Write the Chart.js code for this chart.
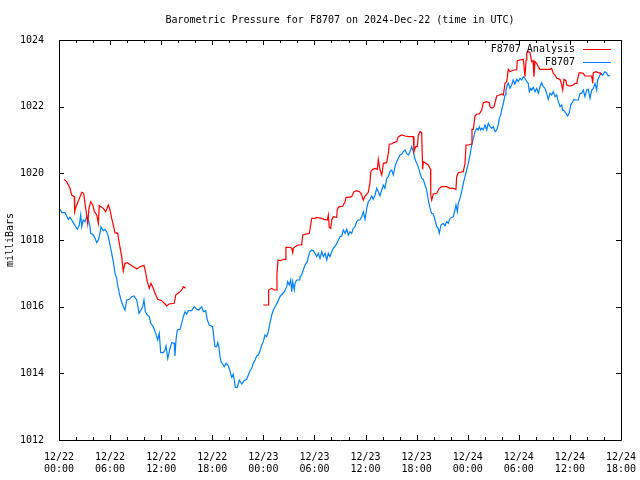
<!DOCTYPE html>
<html>
<head>
<meta charset="utf-8">
<script src="https://cdn.jsdelivr.net/npm/chart.js@4"></script>
<style>
  html, body { margin: 0; padding: 0; background: #fff; }
  #chart { display: block; }
</style>
</head>
<body>
<canvas id="chart" width="640" height="480"></canvas>
<script>
const titleText = 'Barometric Pressure for F8707 on 2024-Dec-22 (time in UTC)';
const yTitle = 'milliBars';
const seriesNames = ['F8707 Analysis', 'F8707'];

// x axis is hours since 12/22 00:00 UTC
const xTickLabels = [
    ['12/22', '00:00'], ['12/22', '06:00'], ['12/22', '12:00'], ['12/22', '18:00'],
    ['12/23', '00:00'], ['12/23', '06:00'], ['12/23', '12:00'], ['12/23', '18:00'],
    ['12/24', '00:00'], ['12/24', '06:00'], ['12/24', '12:00'], ['12/24', '18:00']
];
const yTicks = [1012, 1014, 1016, 1018, 1020, 1022, 1024];

// analysis series (null = no data)
const analysisHours = [
    0.59, 0.90, 1.29, 1.49, 1.80, 1.84, 2.00, 2.47, 2.67, 2.90, 3.05, 3.25, 3.37, 3.52, 3.72, 3.96,
    4.15, 4.43, 4.62, 4.73, 5.20, 5.48, 5.79, 5.99, 6.19, 6.58, 6.89, 7.08, 7.36, 7.55, 7.75, 8.02,
    8.73, 9.13, 9.51, 9.98, 10.14, 10.37, 10.60, 10.80, 11.07, 11.27, 11.59, 12.06, 12.45, 12.65, 12.92,
    13.54, 13.71, 14.13, 14.41, 14.60, 14.88,
    19.0,
    23.99, 24.58, 24.62, 24.98, 25.25, 25.57, 25.60, 25.72, 26.04, 26.34, 26.62, 26.65, 27.13, 27.33,
    27.45, 27.52, 27.72, 28.10, 28.50, 28.62, 28.89, 29.40, 29.56, 29.68, 30.06, 30.26, 30.85, 31.12,
    31.51, 31.63, 31.74, 31.91, 32.03, 32.21, 32.61, 32.68, 32.80, 33.00, 33.32, 33.59, 33.71, 33.98,
    34.37, 34.64, 34.96, 35.27, 35.47, 35.74, 35.94, 36.32, 36.52, 36.61, 36.84, 37.11, 37.38, 37.50,
    37.70, 37.90, 37.99, 38.09, 38.49, 38.67, 38.79, 39.07, 39.26, 39.66, 39.85, 40.25, 40.63, 41.02,
    41.61, 41.69, 41.89, 42.08, 42.20, 42.40, 42.59, 42.71, 42.78, 42.98, 43.37, 43.63, 43.66, 43.77,
    43.96, 44.36, 44.66, 44.94, 45.53, 45.92, 46.31, 46.62, 46.70, 46.89, 47.48, 47.68, 47.80, 48.07,
    48.47, 48.50, 48.66, 48.85, 49.05, 49.36, 49.64, 49.83, 50.23, 50.53, 50.62, 50.82, 51.09, 51.40,
    51.71, 51.99, 52.18, 52.38, 52.58, 52.76, 52.96, 53.35, 53.75, 53.82, 54.14, 54.53, 54.73, 54.85,
    54.93, 55.11, 55.31, 55.51, 55.67, 55.78, 55.90, 56.10, 56.29, 56.49, 57.66, 57.86, 58.05, 58.25,
    58.45, 58.84, 59.04, 59.15, 59.31, 59.54, 59.62, 60.01, 60.40, 60.60, 60.83, 60.87, 61.10, 61.57,
    61.77, 62.56, 62.68, 62.75, 63.06, 63.33, 63.62, 63.73
];
const analysisMbar = [
    1019.82, 1019.75, 1019.55, 1019.35, 1019.30, 1018.85, 1019.00, 1019.30, 1019.43, 1019.40, 1019.10,
    1018.75, 1018.50, 1018.95, 1019.15, 1019.05, 1018.85, 1018.75, 1018.50, 1019.03, 1018.95, 1018.85,
    1019.05, 1018.90, 1018.65, 1018.22, 1018.20, 1017.90, 1017.50, 1017.07, 1017.30, 1017.32, 1017.20,
    1017.13, 1017.20, 1017.24, 1017.07, 1016.75, 1016.55, 1016.70, 1016.55, 1016.40, 1016.22, 1016.18,
    1016.08, 1016.02, 1016.08, 1016.10, 1016.35, 1016.43, 1016.50, 1016.60, 1016.55,
    null,
    1016.05, 1016.05, 1016.50, 1016.55, 1016.50, 1016.50, 1016.98, 1017.40, 1017.38, 1017.42, 1017.42,
    1017.78, 1017.78, 1017.75, 1017.62, 1017.75, 1017.80, 1017.85, 1017.85, 1018.15, 1018.17, 1018.20,
    1018.45, 1018.65, 1018.65, 1018.68, 1018.65, 1018.62, 1018.60, 1018.75, 1018.38, 1018.35, 1018.60,
    1018.70, 1018.68, 1018.90, 1018.98, 1019.00, 1019.02, 1019.15, 1019.28, 1019.28, 1019.30, 1019.45,
    1019.48, 1019.45, 1019.40, 1019.20, 1019.32, 1019.43, 1019.72, 1020.05, 1020.12, 1020.15, 1020.12,
    1020.42, 1020.10, 1019.95, 1020.10, 1020.30, 1020.32, 1020.60, 1020.88, 1020.88, 1020.92, 1020.95,
    1021.10, 1021.15, 1021.12, 1021.10, 1021.10, 1020.65, 1020.80, 1020.80, 1021.15, 1021.25, 1021.22,
    1020.12, 1020.35, 1020.32, 1020.25, 1020.12, 1019.35, 1019.20, 1019.38, 1019.40, 1019.55, 1019.60,
    1019.60, 1019.55, 1019.55, 1019.52, 1019.90, 1020.02, 1020.05, 1020.30, 1020.85, 1020.85, 1020.88,
    1021.32, 1021.32, 1021.72, 1021.78, 1021.78, 1021.90, 1022.12, 1022.15, 1022.12, 1022.00, 1021.95,
    1022.00, 1022.32, 1022.35, 1022.38, 1022.35, 1022.70, 1022.75, 1023.12, 1023.05, 1023.10, 1023.10,
    1023.38, 1023.40, 1023.42, 1022.90, 1023.40, 1023.62, 1023.65, 1023.62, 1023.35, 1023.38, 1022.90,
    1023.35, 1023.30, 1023.20, 1023.12, 1023.12, 1023.15, 1023.00, 1022.95, 1022.85, 1022.82, 1022.65,
    1022.50, 1022.82, 1022.78, 1022.65, 1022.62, 1022.65, 1022.70, 1022.70, 1022.80, 1023.02, 1023.00,
    1022.92, 1022.92, 1022.70, 1023.02, 1023.05, 1023.02, 1023.00, 1022.95
];

// station observations
const stationHours = [
    0.12, 0.35, 0.70, 0.90, 1.09, 1.29, 1.49, 1.68, 1.91, 2.15, 2.38, 2.55, 2.67, 2.85, 3.05, 3.25,
    3.44, 3.64, 3.72, 4.03, 4.23, 4.43, 4.62, 4.81, 4.93, 5.20, 5.40, 5.60, 5.79, 5.99, 6.19, 6.38,
    6.58, 6.78, 6.89, 7.08, 7.28, 7.55, 7.75, 7.95, 8.26, 8.54, 8.81, 9.13, 9.40, 9.63, 9.83, 9.98,
    10.14, 10.37, 10.60, 10.77, 11.07, 11.36, 11.59, 11.78, 11.94, 12.25, 12.45, 12.57, 12.77, 13.04,
    13.24, 13.54, 13.62, 13.74, 13.89, 14.21, 14.41, 14.60, 14.80, 15.00, 15.18, 15.58, 15.89, 16.17,
    16.44, 16.76, 16.95, 17.23, 17.42, 17.65, 18.05, 18.20, 18.32, 18.52, 18.64, 18.79, 18.91, 19.03,
    19.22, 19.41, 19.61, 19.88, 20.16, 20.28, 20.47, 20.59, 20.70, 20.94, 21.17, 21.46, 21.73, 22.04,
    22.23, 22.43, 22.63, 22.82, 23.02, 23.22, 23.41, 23.61, 23.81, 23.99, 24.19, 24.39, 24.58, 24.78,
    24.98, 25.17, 25.37, 25.64, 25.95, 26.22, 26.46, 26.74, 26.86, 27.05, 27.21, 27.33, 27.45, 27.63,
    27.72, 27.91, 28.22, 28.30, 28.50, 28.69, 28.89, 29.16, 29.28, 29.48, 29.68, 29.87, 30.06, 30.26,
    30.45, 30.65, 30.85, 31.04, 31.24, 31.44, 31.63, 31.83, 32.03, 32.21, 32.53, 32.68, 33.00, 33.20,
    33.39, 33.59, 33.79, 33.98, 34.17, 34.37, 34.56, 34.76, 34.96, 35.15, 35.35, 35.55, 35.74, 35.94,
    36.14, 36.32, 36.52, 36.72, 36.91, 37.11, 37.31, 37.50, 37.70, 37.90, 38.09, 38.28, 38.49, 38.67,
    38.87, 39.07, 39.26, 39.46, 39.66, 39.85, 40.05, 40.25, 40.43, 40.63, 40.83, 41.02, 41.22, 41.42,
    41.61, 41.81, 42.01, 42.20, 42.40, 42.59, 42.78, 42.98, 43.18, 43.37, 43.57, 43.77, 43.96, 44.16,
    44.36, 44.54, 44.66, 44.86, 45.13, 45.33, 45.53, 45.72, 45.92, 46.31, 46.50, 46.62, 46.78, 46.89,
    47.09, 47.29, 47.48, 47.68, 47.88, 48.07, 48.27, 48.47, 48.66, 48.85, 49.05, 49.24, 49.36, 49.52,
    49.64, 49.83, 50.03, 50.23, 50.42, 50.62, 50.82, 51.00, 51.20, 51.40, 51.59, 51.71, 51.87, 51.99,
    52.18, 52.38, 52.49, 52.65, 52.76, 52.96, 53.16, 53.35, 53.55, 53.75, 53.94, 54.14, 54.34, 54.53,
    54.73, 54.93, 55.11, 55.23, 55.40, 55.51, 55.70, 55.90, 56.10, 56.29, 56.49, 56.68, 56.88, 57.07,
    57.27, 57.46, 57.66, 57.86, 58.05, 58.25, 58.45, 58.64, 58.84, 59.04, 59.15, 59.31, 59.54, 59.74,
    59.93, 60.10, 60.33, 60.48, 60.60, 60.80, 60.99, 61.18, 61.38, 61.57, 61.77, 61.97, 62.16, 62.36,
    62.56, 62.75, 62.95, 63.14, 63.26, 63.45, 63.62, 63.85, 64.12, 64.32, 64.51, 64.71
];
const stationMbar = [
    1018.92, 1018.82, 1018.82, 1018.72, 1018.62, 1018.68, 1018.60, 1018.52, 1018.42, 1018.32, 1018.45,
    1018.75, 1018.40, 1018.60, 1018.55, 1018.70, 1018.62, 1018.40, 1018.20, 1018.15, 1018.05, 1017.92,
    1018.00, 1018.20, 1018.40, 1018.28, 1018.32, 1018.25, 1018.10, 1017.85, 1017.60, 1017.35, 1017.00,
    1016.85, 1016.65, 1016.40, 1016.20, 1016.00, 1015.90, 1016.20, 1016.22, 1016.30, 1016.32, 1016.20,
    1015.80, 1015.90, 1016.00, 1016.20, 1015.85, 1015.75, 1015.70, 1015.50, 1015.40, 1015.20, 1015.00,
    1015.20, 1014.62, 1014.62, 1014.70, 1014.82, 1014.45, 1014.75, 1014.92, 1014.90, 1014.52, 1015.00,
    1015.30, 1015.32, 1015.50, 1015.70, 1015.85, 1015.78, 1015.88, 1015.88, 1016.00, 1015.92, 1015.90,
    1016.00, 1015.85, 1015.88, 1015.60, 1015.45, 1015.40, 1015.05, 1014.80, 1014.80, 1014.92, 1014.78,
    1014.50, 1014.35, 1014.28, 1014.20, 1014.30, 1014.23, 1014.00, 1013.88, 1013.97, 1013.80, 1013.58,
    1013.58, 1013.80, 1013.68, 1013.78, 1013.82, 1013.95, 1014.08, 1014.15, 1014.30, 1014.40, 1014.52,
    1014.55, 1014.68, 1014.85, 1014.95, 1015.15, 1015.10, 1015.25, 1015.52, 1015.75, 1015.90, 1016.00,
    1016.12, 1016.30, 1016.38, 1016.45, 1016.60, 1016.75, 1016.65, 1016.80, 1016.45, 1016.75, 1016.50,
    1016.70, 1016.80, 1016.80, 1016.90, 1016.95, 1017.10, 1017.25, 1017.35, 1017.50, 1017.65, 1017.70,
    1017.68, 1017.60, 1017.50, 1017.60, 1017.45, 1017.65, 1017.50, 1017.60, 1017.40, 1017.60, 1017.50,
    1017.65, 1017.75, 1017.85, 1017.93, 1018.10, 1018.12, 1018.30, 1018.20, 1018.32, 1018.15, 1018.25,
    1018.20, 1018.35, 1018.40, 1018.55, 1018.60, 1018.60, 1018.70, 1018.85, 1018.62, 1018.95, 1019.15,
    1019.20, 1019.32, 1019.22, 1019.35, 1019.55, 1019.45, 1019.32, 1019.50, 1019.65, 1019.55, 1019.85,
    1019.90, 1020.05, 1020.10, 1019.95, 1020.20, 1020.35, 1020.45, 1020.55, 1020.58, 1020.65, 1020.70,
    1020.60, 1020.55, 1020.65, 1020.80, 1020.65, 1020.42, 1020.30, 1020.20, 1020.00, 1019.85, 1019.82,
    1019.65, 1019.50, 1019.20, 1018.95, 1018.80, 1018.78, 1018.60, 1018.40, 1018.35, 1018.20, 1018.45,
    1018.50, 1018.42, 1018.55, 1018.50, 1018.65, 1018.70, 1018.90, 1019.05, 1018.85, 1019.10, 1019.25,
    1019.45, 1019.70, 1019.90, 1020.10, 1020.30, 1020.55, 1020.85, 1021.05, 1021.25, 1021.35, 1021.30,
    1021.40, 1021.30, 1021.35, 1021.30, 1021.45, 1021.30, 1021.50, 1021.40, 1021.35, 1021.40, 1021.25,
    1021.30, 1021.45, 1021.65, 1021.75, 1021.90, 1022.10, 1022.35, 1022.50, 1022.65, 1022.70, 1022.55,
    1022.65, 1022.80, 1022.68, 1022.82, 1022.75, 1022.85, 1022.80, 1022.90, 1022.85, 1022.75, 1022.70,
    1022.45, 1022.55, 1022.50, 1022.58, 1022.45, 1022.55, 1022.40, 1022.60, 1022.72, 1022.60, 1022.55,
    1022.40, 1022.22, 1022.40, 1022.35, 1022.45, 1022.30, 1022.35, 1022.15, 1022.00, 1022.05, 1021.90,
    1021.88, 1021.80, 1021.72, 1021.82, 1022.05, 1022.15, 1022.22, 1022.20, 1022.20, 1022.20, 1022.40,
    1022.40, 1022.50, 1022.30, 1022.50, 1022.52, 1022.25, 1022.50, 1022.55, 1022.70, 1022.50, 1022.80,
    1022.90, 1023.00, 1022.95, 1023.05, 1023.00, 1022.92, 1022.95
];

const FONT = '"DejaVu Sans Mono", "Liberation Mono", monospace';
const red = '#ff0000';
const blue = '#0080ff';

function toPoints(xs, ys) {
    return xs.map((x, i) => ({ x: x, y: ys[i] }));
}

// gnuplot-like frame, inward ticks, title and key
const framePlugin = {
    id: 'frame',
    afterDatasetsDraw(chart) {
        const { ctx, chartArea: a, scales } = chart;
        const xs = scales.x, ys = scales.y;
        ctx.save();
        ctx.strokeStyle = '#000';
        ctx.lineWidth = 1;
        ctx.beginPath();
        ctx.rect(Math.round(a.left) + 0.5, Math.round(a.top) + 0.5,
            Math.round(a.right - a.left), Math.round(a.bottom - a.top));
        for (let h = 0; h <= 66; h += 2) {
            const px = Math.round(xs.getPixelForValue(h)) + 0.5;
            const len = h % 6 === 0 ? 5 : 3;
            ctx.moveTo(px, a.bottom);
            ctx.lineTo(px, a.bottom - len);
            ctx.moveTo(px, a.top);
            ctx.lineTo(px, a.top + len);
        }
        yTicks.forEach(v => {
            const py = Math.round(ys.getPixelForValue(v)) + 0.5;
            ctx.moveTo(a.left, py);
            ctx.lineTo(a.left + 5, py);
            ctx.moveTo(a.right, py);
            ctx.lineTo(a.right - 5, py);
        });
        ctx.stroke();

        ctx.fillStyle = '#000';
        ctx.font = '10px ' + FONT;
        ctx.textBaseline = 'middle';
        ctx.textAlign = 'center';
        ctx.fillText(titleText, (a.left + a.right) / 2, 20);

        // key
        ctx.textAlign = 'right';
        chart.data.datasets.forEach((ds, i) => {
            const y = 49 + i * 13;
            ctx.fillStyle = '#000';
            ctx.fillText(ds.label, 575, y);
            ctx.strokeStyle = ds.borderColor;
            ctx.beginPath();
            ctx.moveTo(583, y + 0.5);
            ctx.lineTo(611, y + 0.5);
            ctx.stroke();
        });
        ctx.restore();
    }
};

const config = {
    type: 'line',
    data: {
        datasets: [
            {
                label: seriesNames[0],
                data: toPoints(analysisHours, analysisMbar),
                borderColor: red,
                borderWidth: 1.2,
                pointRadius: 0,
                spanGaps: false,
                tension: 0
            },
            {
                label: seriesNames[1],
                data: toPoints(stationHours, stationMbar),
                borderColor: blue,
                borderWidth: 1.2,
                pointRadius: 0,
                tension: 0
            }
        ]
    },
    options: {
        responsive: false,
        animation: false,
        devicePixelRatio: 1,
        layout: { padding: { top: 40, right: 19, left: 0, bottom: 0 } },
        plugins: {
            legend: { display: false },
            title: { display: false },
            tooltip: { enabled: false }
        },
        scales: {
            x: {
                type: 'linear',
                min: 0,
                max: 66,
                afterFit: (s) => { s.height = 40; },
                grid: { display: false },
                border: { display: false },
                ticks: {
                    stepSize: 6,
                    autoSkip: false,
                    maxRotation: 0,
                    padding: 3,
                    color: '#000',
                    font: { family: FONT, size: 10, lineHeight: 1.2 },
                    callback: (v) => xTickLabels[Math.round(v / 6)]
                }
            },
            y: {
                min: 1012,
                max: 1024,
                afterFit: (s) => { s.width = 59; },
                grid: { display: false },
                border: { display: false },
                title: {
                    display: true,
                    text: yTitle,
                    color: '#000',
                    font: { family: FONT, size: 10 },
                    padding: { top: 4, bottom: 0 }
                },
                ticks: {
                    stepSize: 2,
                    padding: 7,
                    color: '#000',
                    font: { family: FONT, size: 10 },
                    callback: (v) => String(v)
                }
            }
        }
    },
    plugins: [framePlugin]
};

window.onload = function () {
    const ctx = document.getElementById('chart').getContext('2d');
    new Chart(ctx, config);
};
</script>
</body>
</html>
